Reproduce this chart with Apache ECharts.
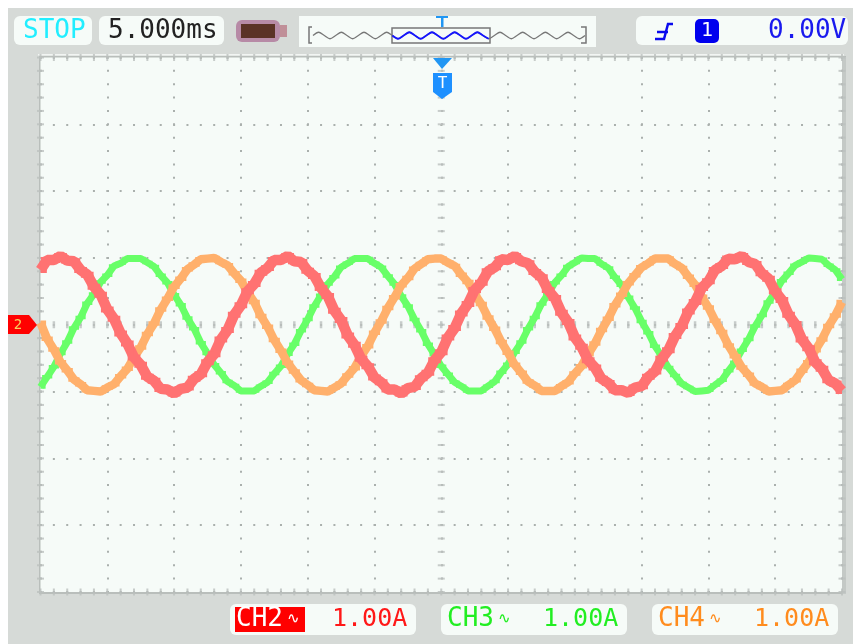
<!DOCTYPE html>
<html><head><meta charset="utf-8">
<style>html,body{margin:0;padding:0;background:#fff}#c{width:853px;height:644px;filter:blur(.55px)}</style>
<script src="https://cdn.jsdelivr.net/npm/echarts@6/dist/echarts.min.js"></script></head>
<body><div id="c"></div>
<script>
const timeMs = Array.from({length:121},(_,i)=>i*0.5);
const ch2Amps = [.82,.97,.97,1.03,.96,.95,.82,.75,.57,.45,.23,.09,-.13,-.28,-.49,-.60,-.78,-.84,-.96,-.97,-1.03,-.96,-.94,-.81,-.74,-.56,-.44,-.22,-.08,.15,.29,.50,.61,.78,.85,.97,.97,1.03,.95,.94,.81,.73,.55,.43,.21,.07,-.16,-.30,-.51,-.62,-.79,-.86,-.97,-.97,-1.03,-.95,-.93,-.80,-.72,-.53,-.41,-.19,-.05,.17,.31,.52,.63,.80,.86,.98,.97,1.03,.95,.92,.79,.71,.52,.40,.18,.04,-.19,-.33,-.53,-.64,-.81,-.87,-.98,-.98,-1.02,-.94,-.92,-.78,-.70,-.51,-.38,-.17,-.02,.20,.34,.55,.65,.82,.88,.99,.98,1.03,.94,.91,.77,.69,.50,.37,.15,.01,-.22,-.35,-.56,-.66,-.83,-.88,-.99];
const ch3Amps = [-.93,-.78,-.63,-.43,-.26,-.05,.11,.32,.46,.64,.74,.88,.92,.99,.99,.99,.93,.87,.74,.63,.45,.30,.10,-.06,-.27,-.43,-.60,-.72,-.85,-.91,-.99,-.99,-.99,-.92,-.86,-.73,-.62,-.44,-.29,-.09,.08,.28,.44,.61,.72,.86,.92,.99,.99,.99,.92,.86,.73,.61,.43,.28,.08,-.09,-.29,-.45,-.62,-.74,-.86,-.92,-.99,-.99,-.99,-.92,-.85,-.71,-.59,-.41,-.26,-.06,.11,.31,.46,.63,.74,.87,.93,1,.99,.99,.91,.85,.71,.59,.41,.25,.05,-.12,-.32,-.47,-.64,-.76,-.88,-.94,-1,-.99,-.98,-.90,-.83,-.69,-.56,-.38,-.22,-.02,.14,.34,.49,.66,.77,.89,.94,1,.99,.98,.89,.82,.68];
const ch4Amps = [.03,-.21,-.37,-.56,-.68,-.82,-.89,-.98,-.99,-1,-.94,-.89,-.77,-.66,-.49,-.34,-.14,.02,.23,.39,.57,.69,.83,.90,.98,.99,1,.94,.89,.77,.66,.49,.34,.13,-.03,-.23,-.39,-.57,-.70,-.83,-.90,-.98,-.99,-1,-.94,-.88,-.76,-.65,-.47,-.32,-.12,.05,.25,.41,.59,.70,.84,.91,.98,.99,.99,.93,.88,.75,.64,.46,.31,.11,-.06,-.26,-.42,-.60,-.72,-.85,-.91,-.99,-.99,-.99,-.92,-.86,-.73,-.62,-.44,-.28,-.08,.09,.29,.45,.62,.74,.86,.92,.99,.99,.99,.91,.85,.72,.60,.42,.26,.06,-.11,-.31,-.47,-.64,-.75,-.88,-.93,-1,-.99,-.98,-.90,-.83,-.69,-.56,-.38,-.22,-.02,.14,.34];
const memoryWave = [0,1,0,-1,0,1,0,-1,0,1,0,-1,0,1,0,-1,0,1,0,-1,0,1,0,-1,0,1,0,-1,0,1,0,-1,0,1,0,-1,0,1,0,-1,0,1,0,-1,0,1,0,-1,0];
const viewWave = [null,null,null,null,null,null,null,null,null,null,null,null,null,null,0,-1,0,1,0,-1,0,1,0,-1,0,1,0,-1,0,1,0,-1,null,null,null,null,null,null,null,null,null,null,null,null,null,null,null,null,null];
const CH2='#ff7272', CH3='#68ff68', CH4='#ffb06c';
const F='"DejaVu Sans Mono",monospace', PANEL='#f6fbf8', FRAME='#d6dad7', GRID='#aab0ad', MID='#bcc1be';
const zip=a=>a.map((v,i)=>[timeMs[i],v]);
const edgeH=[],edgeV=[],midH=[],midV=[];
for(let i=0;i<=60;i++){edgeH.push([i,-4],[i,4]);midH.push([i,0]);}
for(let i=0;i<=40;i++){edgeV.push([0,-4+i*.2],[60,-4+i*.2]);midV.push([30,-4+i*.2]);}
const tick=(data,size,color)=>({type:'scatter',data,symbol:'rect',symbolSize:size,silent:true,clip:true,z:1,itemStyle:{color:color||GRID},animation:false});
const rr=(x,y,w,h,r,fill,z)=>({type:'rect',shape:{x,y,width:w,height:h,r:r||0},style:{fill},z:z===undefined?0:z,silent:true});
const txt=(x,y,text,fill,size,align)=>({type:'text',x,y,z:5,silent:true,style:{text,fill,font:`${size||26}px ${F}`,align:align||'left',verticalAlign:'middle'}});
const poly=(points,fill,z)=>({type:'polygon',shape:{points},style:{fill},z:z===undefined?5:z,silent:true});
const pl=(points,stroke,w)=>({type:'polyline',shape:{points},style:{stroke,lineWidth:w,fill:null},z:6,silent:true});
const wave=(name,values,color,width,step)=>({name,type:'line',step:step?'middle':false,data:zip(values),showSymbol:false,lineStyle:{color,width,join:step?'miter':'bevel'},itemStyle:{color},animation:false,z:3,clip:true,silent:true});
const chart=echarts.init(document.getElementById('c'),null,{renderer:'canvas'});
chart.setOption({
 backgroundColor:'#ffffff',animation:false,
 grid:[{left:40.5,top:57.5,width:801.5,height:534.5,show:false},{left:313,top:29,width:272,height:13,show:false}],
 xAxis:[{type:'value',gridIndex:0,min:0,max:60,interval:5,axisLine:{show:false},axisTick:{show:false},axisLabel:{show:false},
   splitLine:{show:true,lineStyle:{color:GRID,width:2,type:[2,11.36],dashOffset:1}}},
  {type:'category',gridIndex:1,boundaryGap:false,data:memoryWave.map((_,i)=>i),show:false}],
 yAxis:[{type:'value',gridIndex:0,min:-4,max:4,interval:1,axisLine:{show:false},axisTick:{show:false},axisLabel:{show:false},
   splitLine:{show:true,lineStyle:{color:GRID,width:2,type:[2,11.36],dashOffset:1}}},
  {type:'value',gridIndex:1,min:-2,max:2,show:false}],
 series:[
  tick(edgeH,[2,7],MID),tick(edgeV,[7,2],MID),tick(midH,[2.5,7],MID),tick(midV,[7,2],MID),
  wave('CH3',ch3Amps,CH3,7,false),wave('CH3 noise',ch3Amps,CH3,3.5,true),
  wave('CH4',ch4Amps,CH4,8.5,false),wave('CH4 noise',ch4Amps,CH4,4.5,true),
  wave('CH2',ch2Amps,CH2,10.5,false),wave('CH2 noise',ch2Amps,CH2,6,true),
  {type:'line',xAxisIndex:1,yAxisIndex:1,data:memoryWave,smooth:.3,showSymbol:false,silent:true,lineStyle:{color:'#777',width:1.3},z:6},
  {type:'line',xAxisIndex:1,yAxisIndex:1,data:viewWave,smooth:.3,showSymbol:false,silent:true,lineStyle:{color:'#1414ff',width:1.8},z:7}
 ],
 graphic:[
  rr(8,8,845,636,0,FRAME,-10),
  rr(38,54,806,1.5,0,'#f2f5f3',-9),
  rr(39,56,807,538,0,'#b9bebb',-9),
  rr(40.5,57.5,801.5,534.5,0,PANEL,-8),
  rr(842,57,4,537,0,'#c4c9c6',-8),
  rr(14,16,78,29,6,PANEL),txt(23,31,'STOP','#22eeff',26),
  rr(99,16,125,29,6,PANEL),txt(108,31,'5.000ms','#222',26),
  rr(236,20,44,22,6,'#b78aa6'),rr(280,25,7,12,0,'#c08f98'),rr(241,24,34,14,0,'#5b3226',1),
  rr(299,16,297,31,0,PANEL),
  pl([[312,27],[309,27],[309,43],[312,43]],'#777',1.5),
  pl([[581,27],[586,27],[586,43],[581,43]],'#777',1.5),
  {type:'rect',shape:{x:392,y:28,width:98,height:15},style:{stroke:'#777',lineWidth:1.5,fill:null},z:6,silent:true},
  rr(436,16,12,2,0,'#2196f3',7),rr(441,16,2.5,11,0,'#2196f3',7),
  rr(636,16,212,29,6,PANEL),
  pl([[655,39],[664,39],[668,24],[673,24]],'#0a0aee',2.5),
  pl([[657,32],[668,32]],'#0a0aee',2.5),
  rr(695,19,24,24,5,'#0000ee',2),txt(707,31,'1','#fff',20,'center'),
  txt(768,31,'0.00V','#1a1aee',26),
  poly([[433,58],[452,58],[442,69]],'#2196f3'),
  poly([[433,73],[452,73],[452,92],[442,99],[433,92]],'#1e90ff'),
  txt(442.5,84,'T','#fff',16,'center'),
  poly([[8,315],[29,315],[37,325],[29,334],[8,334]],'#ff0000'),
  txt(18,325,'2','#f6d060',14,'center'),
  rr(230,604,186,31,6,PANEL),rr(235,607,70,25,0,'#ff0000',1),
  txt(236,619,'CH2','#fff',26),txt(287,619,'\u223F','#fff',15),txt(332,619,'1.00A','#ff1818',25),
  rr(441,604,186,31,6,PANEL),
  txt(447,619,'CH3','#22ee22',26),txt(498,619,'\u223F','#22ee22',15),txt(543,619,'1.00A','#22ee22',25),
  rr(652,604,186,31,6,PANEL),
  txt(658,619,'CH4','#ff8c1e',26),txt(709,619,'\u223F','#ff8c1e',15),txt(754,619,'1.00A','#ff8c1e',25)
 ]
});
</script></body></html>
